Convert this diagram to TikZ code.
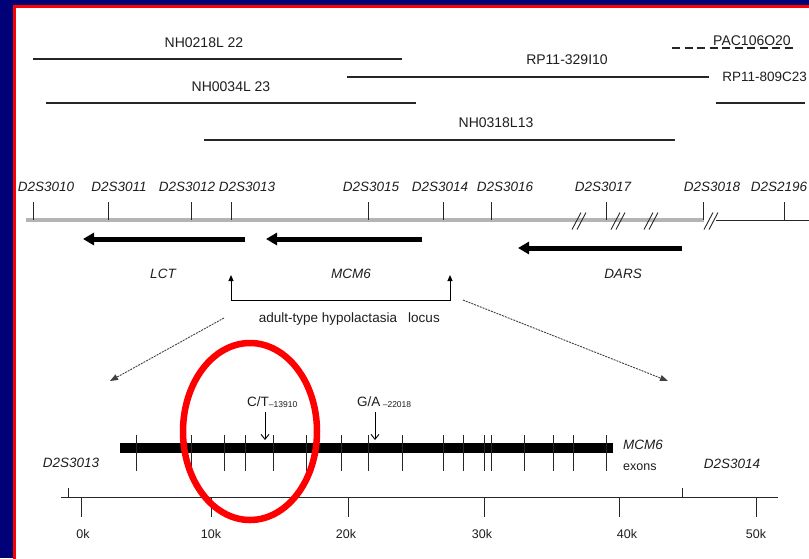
\documentclass[tikz,border=0pt]{standalone}
\usepackage{fontspec}
\setmainfont{Liberation Sans}
\usetikzlibrary{arrows.meta}
\definecolor{navy}{RGB}{0,0,120}
\definecolor{txt}{RGB}{30,30,30}
\definecolor{markgray}{RGB}{180,180,180}
\begin{document}
\begin{tikzpicture}[x=1pt,y=-1pt,
  lbl/.style={font=\fontsize{13.5}{16}\selectfont, text=txt, inner sep=0pt},
  clonelbl/.style={font=\fontsize{14}{16}\selectfont, text=txt, inner sep=0pt},
  mk/.style={font=\fontsize{13.5}{16}\selectfont\itshape, text=txt, inner sep=0pt},
  small/.style={font=\fontsize{12.5}{15}\selectfont, text=txt, inner sep=0pt},
  clone/.style={line width=1.5pt, black!85},
  tickline/.style={line width=1pt, black!85},
  gene/.style={line width=5pt, black, -{Triangle[length=11pt,width=12pt]}},
  locusln/.style={line width=1pt, black, {Triangle[length=6pt,width=5pt]}-{Triangle[length=6pt,width=5pt]}},
  zoomln/.style={line width=0.9pt, black!75, dash pattern=on 2pt off 1pt, -{Triangle[length=8pt,width=6pt]}},
  snp/.style={line width=0.9pt, black, -{Straight Barb[length=5pt,width=8pt]}},
]
\useasboundingbox (0,0) rectangle (809,558);
\clip (0,0) rectangle (809,558);
% frame
\fill[navy] (0,0) rectangle (809,558);
\fill[red] (13,5) rectangle (820,570);
\fill[white] (16,8) rectangle (820,570);

% clones
\coordinate (c1a) at (33,59);  \coordinate (c1b) at (402,59);
\draw[clone] (c1a) -- (c1b);
\node[clonelbl, anchor=base] (c1l) at (204,47) {NH0218L 22};
\coordinate (c2a) at (46,103); \coordinate (c2b) at (416,103);
\draw[clone] (c2a) -- (c2b);
\node[clonelbl, anchor=base] (c2l) at (231,91) {NH0034L 23};
\coordinate (c3a) at (347,77); \coordinate (c3b) at (709,77);
\draw[clone] (c3a) -- (c3b);
\node[clonelbl, anchor=base] (c3l) at (567,64) {RP11-329I10};
\coordinate (c4a) at (204,140); \coordinate (c4b) at (675,140);
\draw[clone] (c4a) -- (c4b);
\node[clonelbl, anchor=base] (c4l) at (496,127) {NH0318L13};
\coordinate (c5a) at (672,48); \coordinate (c5b) at (797,48);
\draw[clone, dash pattern=on 8pt off 4.5pt] (c5a) -- (c5b);
\node[clonelbl, anchor=base] (c5l) at (752,45) {PAC106O20};
\coordinate (c6a) at (716,103); \coordinate (c6b) at (805,103);
\draw[clone] (c6a) -- (c6b);
\node[lbl, anchor=base east] (c6l) at (807,81) {RP11-809C23};

% marker line
\coordinate (m0) at (26,220); \coordinate (m1) at (704,220);
\draw[markgray, line width=3.5pt] (m0) -- (m1);
\coordinate (m2) at (716,220); \coordinate (m3) at (812,220);
\draw[tickline] (m2) -- (m3);
\foreach \tx/\lx/\nm in {33/46/D2S3010, 108/119/D2S3011, 191/187/D2S3012, 231/247/D2S3013,
  368/371/D2S3015, 443/440/D2S3014, 491/505/D2S3016, 606/603/D2S3017, 703/712/D2S3018, 784/779/D2S2196}{
  \draw[tickline] (\tx,202) -- (\tx,220);
  \node[mk, anchor=base] (mk\nm) at (\lx,191) {\nm};
}
% break marks
\foreach \c in {579,618,651,711}{
  \foreach \d in {-2.5,2.5}{
    \draw[line width=0.9pt, black!85] ({\c+\d-4.5},229.5) -- ({\c+\d+4.5},212.5);
  }
}

% genes
\coordinate (lctS) at (245,239); \coordinate (lctE) at (83,239);
\draw[gene] (lctS) -- (lctE);
\node[mk, anchor=base] (lct) at (163,278) {LCT};
\coordinate (mcmS) at (422,239); \coordinate (mcmE) at (266,239);
\draw[gene] (mcmS) -- (mcmE);
\node[mk, anchor=base] (mcm) at (351,278) {MCM6};
\coordinate (darS) at (682,248); \coordinate (darE) at (518,248);
\draw[gene] (darS) -- (darE);
\node[mk, anchor=base] (dars) at (623,278) {DARS};

% locus bracket
\coordinate (lA) at (231,275); \coordinate (lB) at (231,300);
\coordinate (lC) at (450,300); \coordinate (lD) at (450,275);
\draw[locusln] (lA) -- (lB) -- (lC) -- (lD);
\node[lbl, anchor=base] (hyp) at (328,322) {adult-type hypolactasia};
\node[lbl, anchor=base] (loc) at (424,322) {locus};

% zoom lines
\coordinate (z1s) at (224,318); \coordinate (z1e) at (110,381);
\draw[zoomln] (z1s) -- (z1e);
\coordinate (z2s) at (463,300); \coordinate (z2e) at (668,381);
\draw[zoomln] (z2s) -- (z2e);

% MCM6 bar and exons
\coordinate (barL) at (120,448); \coordinate (barR) at (613,448);
\draw[line width=10pt, black] (barL) -- (barR);
\foreach \x in {136,191,224,245,273,306,341,368,402,443,463,484,491,524,553,573,606}{
  \draw[tickline] (\x,435) -- (\x,471);
}
\node[mk, anchor=base] (d13) at (71,467) {D2S3013};
\node[mk, anchor=base] (d14) at (732,468) {D2S3014};
\node[mk, anchor=base west] (mcmx) at (623,449) {MCM6};
\node[small, anchor=base west] (exons) at (623,470) {exons};

% SNPs
\node[lbl, anchor=base west] (ct) at (247,406) {C/T\raisebox{-1pt}{\fontsize{8.5}{10}\selectfont –13910}};
\coordinate (ctA) at (265,412); \coordinate (ctB) at (265,440);
\draw[snp] (ctA) -- (ctB);
\node[lbl, anchor=base west] (ga) at (357,406) {G/A\raisebox{-1pt}{\fontsize{8.5}{10}\selectfont\ –22018}};
\coordinate (gaA) at (375,412); \coordinate (gaB) at (375,440);
\draw[snp] (gaA) -- (gaB);

% scale axis
\coordinate (axL) at (61,497); \coordinate (axR) at (778,497);
\draw[tickline] (axL) -- (axR);
\foreach \tx/\lx/\t in {81/83/0k, 211/211/10k, 348/346/20k, 484/482/30k, 619/627/40k, 756/756/50k}{
  \draw[tickline] (\tx,497) -- (\tx,517);
  \node[small, anchor=base] (ax\t) at (\lx,538) {\t};
}
\draw[tickline] (68,488) -- (68,497);
\draw[tickline] (682,488) -- (682,497);

% red ellipse
\draw[red, line width=6.5pt] (250,431.5) ellipse [x radius=67, y radius=88.5];
\end{tikzpicture}
\end{document}
